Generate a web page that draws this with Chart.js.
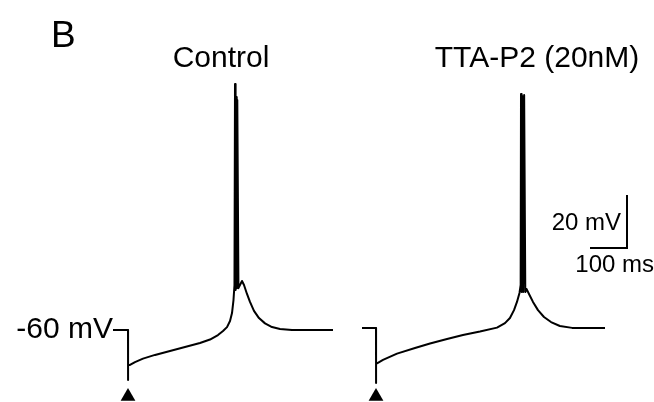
<!DOCTYPE html>
<html>
<head>
<meta charset="utf-8">
<script src="https://cdn.jsdelivr.net/npm/chart.js@4.4.1/dist/chart.umd.min.js"></script>
<style>
  html, body { margin: 0; padding: 0; background: #fff; overflow: hidden; }
  #wrap { width: 654px; height: 402px; }
  canvas { display: block; }
</style>
</head>
<body>
<div id="wrap"><canvas id="trace" width="654" height="402"></canvas></div>
<script>
// --- data (time in ms from stimulus, voltage in mV) ---

// Control sweep
const controlTime = [-40.5, 0, 0, 0.4, 5.4, 18.9, 40.5, 73, 113.5, 154, 194.6, 221.6, 243.2, 256.8, 267.6, 275.7, 281.1, 285.1, 287.8,
  289.2, 290.8, 292.2, 293.8, 295.4, 298.5, 308.1, 313.5, 321.6, 329.7, 340.5, 354, 370.3, 389.2, 410.8, 443.2, 554];
const controlVm = [-60, -60, -78.9, -73.2, -73.2, -72.1, -70.8, -69.4, -67.9, -66.4, -64.9, -63.6, -61.9, -60.4, -58.9, -56.6, -53.6, -48.7, -43,
  32.8, -44.9, 27.9, -44.2, 26.8, -44.2, -41.5, -43, -46.4, -49.4, -52.8, -55.5, -57.5, -58.9, -59.6, -60, -60];

// TTA-P2 (20 nM) sweep
const ttaTime = [-37.8, 0, 0, 0.4, 4, 18.9, 56.8, 105.4, 146, 192, 235, 281, 327, 348.6, 362, 373, 381, 387.8, 391,
  391.9, 393.6, 395.3, 397.8, 400.4, 403.5, 406.8, 413.5, 424.3, 437.8, 454, 473, 497, 530, 619];
const ttaVm = [-59.2, -59.2, -80, -72.5, -72.5, -71.3, -68.9, -66.8, -65.1, -63.4, -61.9, -60.6, -59.1, -57.4, -55.5, -52.5, -49.4, -46, -43,
  29.1, -45.7, 28.3, -45.7, 28.7, -45.7, -44.5, -46.4, -49.4, -52.5, -55.1, -57, -58.5, -59.2, -59.2];

const sweepTitles = ['Control', 'TTA-P2 (20nM)'];
const panelLabel = 'B';
const holdingLabel = '-60 mV';
const scaleBarMs = 100;
const scaleBarMv = 20;

// --- layout (ms / mV on the shared axes) ---
const PX_PER_MS = 0.37;
const PX_PER_MV = 2.65;
const W = 654, H = 402;
const sweepOffset = [128 / PX_PER_MS, 376 / PX_PER_MS];
const barCorner = { t: 627 / PX_PER_MS, v: -29.1 };
const markerVm = -85.1;
const FONT = "'Liberation Sans', Arial, Helvetica, sans-serif";

const toXY = (times, vms, off) => times.map((t, i) => ({ x: t + off, y: vms[i] }));

const traceStyle = {
  showLine: true,
  borderColor: '#000',
  borderWidth: 2,
  pointRadius: 0,
  tension: 0,
  borderJoinStyle: 'round'
};

// Текст рисуем поверх графика
const labelsPlugin = {
  id: 'figLabels',
  afterDraw(chart) {
    const { ctx, scales } = chart;
    const xs = scales.x, ys = scales.y;
    const put = (text, x, y, size, align) => {
      ctx.save();
      ctx.font = `${size}px ${FONT}`;
      ctx.fillStyle = '#000';
      ctx.textAlign = align;
      ctx.textBaseline = 'alphabetic';
      ctx.fillText(text, x, y);
      ctx.restore();
    };
    put(panelLabel, 51, 47, 37, 'left');
    put(sweepTitles[0], 221, 67, 30, 'center');
    put(sweepTitles[1], 537, 67, 30, 'center');
    put(holdingLabel, xs.getPixelForValue(controlTime[0] + sweepOffset[0]), ys.getPixelForValue(-60) + 8, 30, 'right');
    put(`${scaleBarMv} mV`, xs.getPixelForValue(barCorner.t) - 6, ys.getPixelForValue(barCorner.v + scaleBarMv / 2) + 8, 24, 'right');
    put(`${scaleBarMs} ms`, xs.getPixelForValue(barCorner.t) + 27, ys.getPixelForValue(barCorner.v) + 24, 24, 'right');
  }
};

new Chart(document.getElementById('trace'), {
  type: 'scatter',
  data: {
    datasets: [
      { ...traceStyle, data: toXY(controlTime, controlVm, sweepOffset[0]) },
      { ...traceStyle, data: toXY(ttaTime, ttaVm, sweepOffset[1]) },
      {
        ...traceStyle, borderJoinStyle: 'miter',
        data: [
          { x: barCorner.t, y: barCorner.v + scaleBarMv },
          { x: barCorner.t, y: barCorner.v },
          { x: barCorner.t - scaleBarMs, y: barCorner.v }
        ]
      },
      {
        showLine: false,
        pointStyle: 'triangle',
        pointRadius: 8.5,
        backgroundColor: '#000',
        borderWidth: 0,
        data: sweepOffset.map(o => ({ x: o, y: markerVm }))
      }
    ]
  },
  options: {
    responsive: false,
    animation: false,
    layout: { padding: 0, autoPadding: false },
    plugins: { legend: { display: false }, tooltip: { enabled: false } },
    scales: {
      x: { type: 'linear', display: false, min: 0, max: W / PX_PER_MS },
      y: { type: 'linear', display: false, min: -60 - (H - 330) / PX_PER_MV, max: -60 + 330 / PX_PER_MV }
    }
  },
  plugins: [labelsPlugin]
});
</script>
</body>
</html>
